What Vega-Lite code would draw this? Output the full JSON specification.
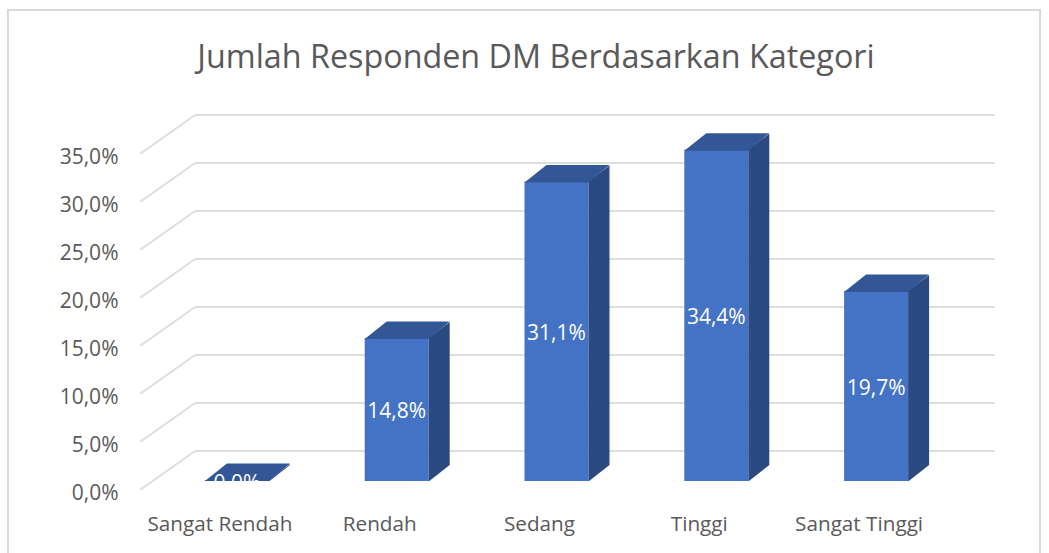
{
"$schema":"https://vega.github.io/schema/vega-lite/v6.json",
"width":1032,"height":560,
"autosize":{"type":"none"},
"padding":{"left":8,"top":10,"right":9,"bottom":0},
"background":"white",
"view":{"stroke":"#D9D9D9","strokeWidth":2,"fill":"white"},
"title":{"text":"Jumlah Responden DM Berdasarkan Kategori","font":"Open Sans","fontSize":32.3,"fontWeight":"normal","color":"#595959","anchor":"middle","orient":"top","offset":-64,"dx":12},
"datasets":{
"bars":[{"k":"Sangat Rendah","v":0},{"k":"Rendah","v":14.8},{"k":"Sedang","v":31.1},{"k":"Tinggi","v":34.4},{"k":"Sangat Tinggi","v":19.7}],
"grid":[{"g":0},{"g":5},{"g":10},{"g":15},{"g":20},{"g":25},{"g":30},{"g":35}]
},
"resolve":{"scale":{"x":"independent"},"axis":{"x":"independent"}},
"layer":[
{"data":{"name":"grid"},"mark":{"type":"rule","color":"#DDDDDD","strokeWidth":2,"xOffset":55,"x2Offset":55,"yOffset":-39,"y2Offset":-39},
 "encoding":{
  "x":{"datum":0,"type":"quantitative","scale":{"domain":[0,5],"range":[132,932]},"axis":null},
  "x2":{"datum":5},
  "y":{"field":"g","type":"quantitative","scale":{"domain":[0,35],"range":[480,144]},"axis":{"title":null,"values":[0,5,10,15,20,25,30,35],"domain":false,"ticks":false,"grid":false,"offset":-110,"labelFont":"Open Sans","labelFontSize":21,"labelColor":"#595959","labelPadding":0,"labelOffset":3.5,"labelExpr":"replace(format(datum.value,'.1f'),'.',',')+'%'"}},
  "y2":{"field":"g"}}},
{"data":{"name":"grid"},"mark":{"type":"rule","color":"#DDDDDD","strokeWidth":2,"x2Offset":55,"y2Offset":-39},
 "encoding":{
  "x":{"datum":0,"type":"quantitative","scale":{"domain":[0,5],"range":[132,932]},"axis":null},
  "x2":{"datum":0},
  "y":{"field":"g","type":"quantitative"},
  "y2":{"field":"g"}}},
{"data":{"name":"bars"},"mark":{"type":"bar","color":"#4472C4","size":64,"xOffset":17,"yOffset":-10,"y2Offset":-9},
 "encoding":{
  "x":{"field":"k","type":"nominal","sort":null,"scale":{"domain":["Sangat Rendah","Rendah","Sedang","Tinggi","Sangat Tinggi"],"range":[132,931],"paddingInner":0,"paddingOuter":0},"axis":{"title":null,"orient":"bottom","offset":-56,"domain":false,"ticks":false,"labelAngle":0,"labelFont":"Open Sans","labelFontSize":20.7,"labelColor":"#595959","labelPadding":0}},
  "y":{"field":"v","type":"quantitative"},
  "y2":{"datum":0}}},
{"data":{"name":"bars"},"mark":{"type":"point","filled":true,"opacity":1,"strokeWidth":0,"size":4,"color":"#2B4A81","xOffset":49,"yOffset":-9,
  "shape":{"expr":"'M0,0.5L21,-16L21,'+toString(-17-datum.v*9.6)+'L0,'+toString(-1-datum.v*9.6)+'Z'"}},
 "encoding":{
  "x":{"field":"k","type":"nominal","sort":null,"scale":{"domain":["Sangat Rendah","Rendah","Sedang","Tinggi","Sangat Tinggi"],"range":[132,931],"paddingInner":0,"paddingOuter":0},"axis":null},
  "y":{"datum":0,"type":"quantitative"}}},
{"data":{"name":"bars"},"mark":{"type":"point","filled":true,"opacity":1,"strokeWidth":0,"size":4,"color":"#335796","xOffset":-15,"yOffset":-9.5,
  "shape":"M0,0.5L22,-17L85,-17L64,0.5Z"},
 "encoding":{
  "x":{"field":"k","type":"nominal","sort":null,"scale":{"domain":["Sangat Rendah","Rendah","Sedang","Tinggi","Sangat Tinggi"],"range":[132,931],"paddingInner":0,"paddingOuter":0},"axis":null},
  "y":{"field":"v","type":"quantitative"}}},
{"data":{"name":"bars"},"transform":[{"calculate":"datum.v/2","as":"mid"},{"calculate":"replace(format(datum.v,'.1f'),'.',',')+'%'","as":"label"}],
 "mark":{"type":"text","color":"white","font":"Open Sans","fontSize":21,"xOffset":17,"yOffset":-6.5},
 "encoding":{
  "x":{"field":"k","type":"nominal","sort":null,"scale":{"domain":["Sangat Rendah","Rendah","Sedang","Tinggi","Sangat Tinggi"],"range":[132,931],"paddingInner":0,"paddingOuter":0},"axis":null},
  "y":{"field":"mid","type":"quantitative"},
  "text":{"field":"label"}}}
]
}
